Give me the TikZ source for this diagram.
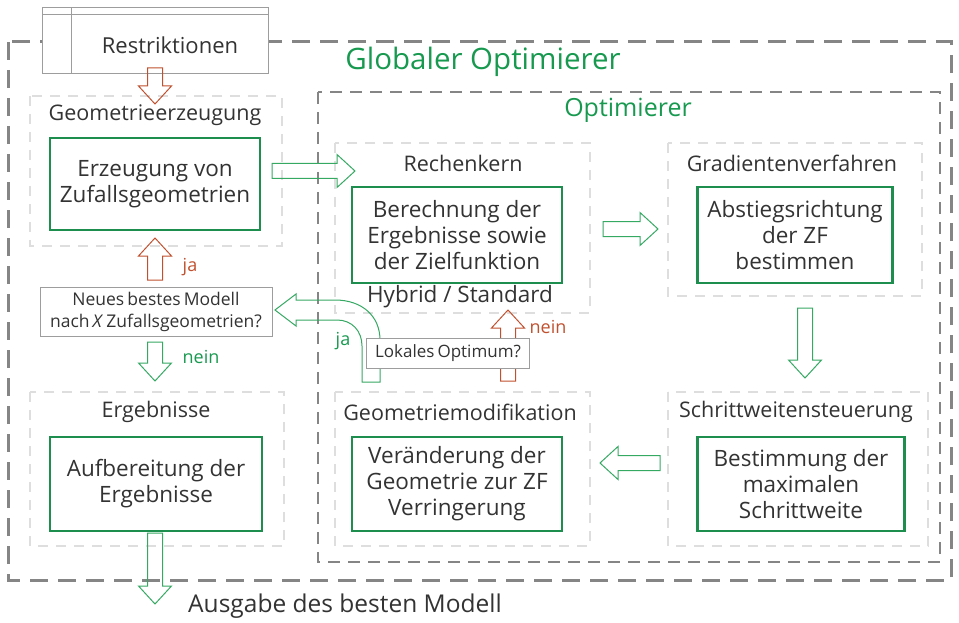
\documentclass[tikz,border=0pt]{standalone}
\usepackage{fontspec}
\setmainfont{Open Sans}
\definecolor{txt}{HTML}{333333}
\definecolor{grn}{HTML}{1E8E4E}
\definecolor{grnt}{HTML}{17994F}
\definecolor{garr}{HTML}{35A862}
\definecolor{red}{HTML}{C0502E}
\definecolor{dgray}{HTML}{858585}
\definecolor{lgray}{HTML}{DEDEDE}
\newcommand\barrow[4]{\draw[#1, line width=1pt, shift={(#2)}, rotate=#3] (0,-7.5) -- ({#4-18},-7.5) -- ({#4-18},-16.5) -- (#4,0) -- ({#4-18},16.5) -- ({#4-18},7.5) -- (0,7.5) -- cycle;}
\begin{document}
\begin{tikzpicture}[x=1pt,y=-1pt,
  every node/.style={text=txt, inner sep=0pt},
  outerbox/.style={draw=dgray, line width=3pt, dash pattern=on 18pt off 10pt},
  optbox/.style={draw=dgray, line width=2.6pt, dash pattern=on 12pt off 8pt},
  grpbox/.style={draw=lgray, line width=2pt, dash pattern=on 10pt off 8pt},
  gbox/.style={draw=grn, line width=2.5pt, fill=white, align=center, font=\fontsize{22.5}{26}\selectfont},
  title/.style={font=\fontsize{21.5}{24}\selectfont},
  qbox/.style={draw=dgray!80, line width=1pt, fill=white, align=center},
  lab/.style={font=\fontsize{18}{20}\selectfont}
]
\useasboundingbox (0,0) rectangle (959,623);
% outer frames
\draw[outerbox] (8,42) rectangle (951,580);
\node[text=grnt, font=\fontsize{29.5}{32}\selectfont] (glob) at (483,62) {Globaler Optimierer};
\draw[optbox] (318,92) rectangle (940,562);
\node[text=grnt, font=\fontsize{25}{28}\selectfont] (opt) at (628,110) {Optimierer};
% group frames
\draw[grpbox] (30,96) rectangle (282,246);
\draw[grpbox] (335,143) rectangle (590,313);
\draw[grpbox] (668,143) rectangle (922,296);
\draw[grpbox] (668,392) rectangle (928,546);
\draw[grpbox] (335,392) rectangle (590,546);
\draw[grpbox] (30,392) rectangle (284,546);
% titles
\node[title] (tA) at (155,115) {Geometrieerzeugung};
\node[title] (tB) at (463,163) {Rechenkern};
\node[title] (tC) at (792,163) {Gradientenverfahren};
\node[title] (tD) at (796,412) {Schrittweitensteuerung};
\node[title] (tE) at (460,412) {Geometriemodifikation};
\node[title] (tF) at (156,412) {Ergebnisse};
\node[font=\fontsize{22.5}{26}\selectfont] (hyb) at (460,297) {Hybrid / Standard};
% restriktionen
\draw[draw=dgray!80, line width=1pt, fill=white] (42,8) rectangle (268,74);
\draw[draw=dgray!80, line width=1pt] (42,15) -- (268,15) (71,8) -- (71,74);
\node[font=\fontsize{22}{25}\selectfont] (restr) at (170,45) {Restriktionen};
% green boxes
\node[gbox, minimum width=210pt, minimum height=92pt] (gA) at (155,184) {Erzeugung von\\Zufallsgeometrien};
\node[gbox, minimum width=210pt, minimum height=96pt] (gB) at (457,235) {Berechnung der\\Ergebnisse sowie\\der Zielfunktion};
\node[gbox, minimum width=195pt, minimum height=96pt] (gC) at (795,235) {Abstiegsrichtung\\der ZF\\bestimmen};
\node[gbox, minimum width=207pt, minimum height=94pt] (gD) at (801,484) {Bestimmung der\\maximalen\\Schrittweite};
\node[gbox, minimum width=210pt, minimum height=94pt] (gE) at (457,484) {Veränderung der\\Geometrie zur ZF\\Verringerung};
\node[gbox, minimum width=212pt, minimum height=94pt] (gF) at (156,484) {Aufbereitung der\\Ergebnisse};
% arrow anchor coordinates
\coordinate (a1) at (155,68);
\coordinate (a2) at (272,171);
\coordinate (a3) at (603,229);
\coordinate (a4) at (805,308);
\coordinate (a5) at (660,463);
\coordinate (a6) at (508,381);
\coordinate (a7) at (155,280);
\coordinate (a8) at (155,342);
\coordinate (a9) at (155,533);
% block arrows
\barrow{red}{a1}{-90}{36}
\barrow{garr}{a2}{0}{83}
\barrow{garr}{a3}{0}{55}
\barrow{garr}{a4}{-90}{70}
\barrow{garr}{a5}{180}{60}
\barrow{red}{a6}{90}{71}
\barrow{red}{a7}{90}{42}
\barrow{garr}{a8}{-90}{39}
\barrow{garr}{a9}{-90}{71}
% curved ja arrow
\draw[garr, line width=1pt] (362,382) -- (362,346) .. controls (362,331) and (352,320) .. (337,320) -- (296,320) -- (296,326) -- (275,310) -- (296,294) -- (296,300) -- (335,300) .. controls (362,300) and (380,316) .. (380,340) -- (380,382) -- cycle;
% question boxes
\node[qbox, minimum width=163pt, minimum height=30pt, font=\fontsize{17}{20}\selectfont] (lok) at (448,353) {Lokales\hspace{0.18em}Optimum?};
\node[qbox, minimum width=232pt, minimum height=49pt, font=\fontsize{17.5}{22}\selectfont] (neu) at (156,312) {Neues\hspace{0.18em}bestes\hspace{0.18em}Modell\\nach\hspace{0.18em}\textit{X}\hspace{0.18em}Zufallsgeometrien?};
% labels
\node[lab, text=red] (l1) at (548,327) {nein};
\node[lab, text=grnt] (l2) at (343,341) {ja};
\node[lab, text=red] (l3) at (190,267) {ja};
\node[lab, text=grnt] (l4) at (201,357) {nein};
\node[font=\fontsize{24.5}{28}\selectfont] (ausg) at (345,606) {Ausgabe des besten Modell};
\end{tikzpicture}
\end{document}
